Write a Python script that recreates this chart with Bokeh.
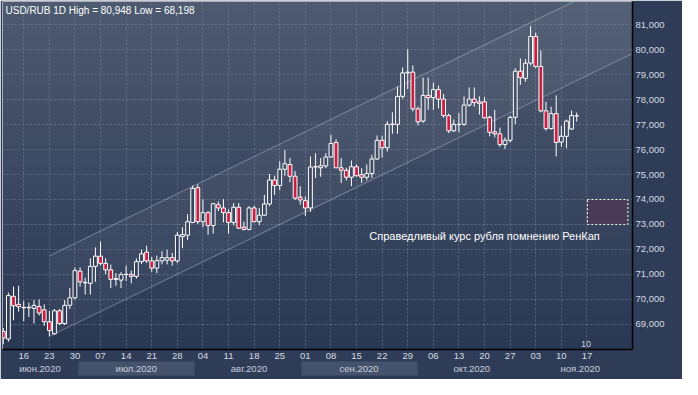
import numpy as np
import pandas as pd
from bokeh.plotting import figure
from bokeh.models import Range1d, LinearAxis, FixedTicker, Label, ColumnDataSource
from bokeh.embed import file_html
from bokeh.resources import INLINE

# ---------------- data (USD/RUB daily, 10 Jun 2020 - 13 Nov 2020) ----------------
opens = [68.71, 68.41, 70.12, 69.80, 69.68, 69.66, 69.64, 69.71, 69.58, 69.10,
         68.62, 69.54, 69.03, 69.76, 70.06, 71.13, 70.68, 70.64, 71.32, 71.73,
         71.44, 71.18, 70.83, 70.77, 70.99, 71.00, 70.92, 71.51, 71.89, 71.54,
         71.25, 71.54, 71.57, 71.67, 71.54, 72.51, 72.57, 73.08, 74.47, 73.11,
         73.47, 72.96, 73.79, 73.66, 73.47, 73.08, 73.69, 72.89, 72.80, 73.66,
         73.11, 73.37, 73.82, 74.78, 74.56, 75.21, 75.40, 74.93, 74.09, 73.95,
         73.66, 75.30, 75.27, 75.34, 75.70, 76.28, 75.27, 75.17, 74.89, 75.31,
         74.99, 74.89, 75.04, 75.62, 76.37, 76.07, 77.00, 77.01, 78.13, 79.07,
         79.10, 77.63, 77.14, 78.17, 78.08, 78.40, 78.02, 77.36, 76.75, 77.00,
         77.01, 77.78, 78.02, 77.91, 77.91, 77.29, 76.71, 76.63, 76.20, 76.37,
         77.29, 79.14, 78.85, 79.46, 80.53, 79.33, 77.55, 76.84, 77.44, 76.30,
         76.53, 76.82, 77.35]
highs = [68.85, 70.27, 70.51, 70.54, 69.93, 69.87, 69.97, 70.00, 69.80, 69.54,
         69.61, 69.61, 69.97, 70.45, 71.28, 71.28, 70.87, 71.64, 72.08, 72.31,
         71.64, 71.39, 71.05, 71.09, 71.35, 71.15, 71.64, 71.99, 72.15, 71.70,
         71.75, 71.93, 71.99, 71.86, 72.70, 72.89, 73.41, 74.56, 74.60, 74.00,
         73.54, 73.86, 73.92, 74.01, 73.60, 73.86, 73.86, 73.11, 73.73, 73.75,
         73.66, 74.18, 75.02, 74.95, 75.53, 75.98, 75.66, 75.14, 74.53, 74.12,
         75.72, 75.85, 75.66, 75.85, 76.59, 76.41, 75.66, 75.27, 75.56, 75.40,
         75.25, 75.40, 75.79, 76.56, 76.56, 77.14, 77.49, 78.52, 79.29, 80.01,
         79.37, 77.72, 78.88, 78.88, 78.68, 78.56, 78.23, 77.44, 77.20, 77.46,
         78.13, 78.49, 78.49, 78.13, 78.10, 77.36, 77.59, 76.88, 76.49, 77.36,
         79.26, 79.65, 79.62, 80.948, 80.68, 79.97, 77.91, 77.72, 78.17, 76.95,
         77.20, 77.56, 77.48]
lows = [68.198, 68.30, 69.16, 69.51, 69.12, 69.29, 69.03, 69.35, 68.94, 68.52,
        68.58, 68.97, 68.97, 69.61, 70.00, 70.51, 70.19, 70.19, 70.70, 71.35,
        71.00, 70.45, 70.54, 70.45, 70.74, 70.64, 70.83, 71.41, 71.46, 71.10,
        71.05, 71.40, 71.40, 71.35, 71.45, 72.05, 72.38, 73.05, 73.02, 72.89,
        72.59, 72.63, 73.54, 73.08, 72.63, 72.96, 72.83, 72.76, 72.76, 73.08,
        72.96, 73.34, 73.73, 74.18, 74.37, 74.95, 74.69, 73.98, 73.79, 73.34,
        73.50, 74.86, 74.91, 75.25, 75.66, 75.25, 74.66, 74.76, 74.53, 74.91,
        74.66, 74.76, 74.86, 75.59, 75.68, 75.92, 76.63, 76.63, 78.04, 78.42,
        77.53, 76.97, 77.07, 77.59, 77.59, 77.65, 77.27, 76.66, 76.71, 76.69,
        76.95, 77.72, 77.72, 77.40, 77.23, 76.53, 76.49, 76.11, 76.02, 76.28,
        77.01, 78.59, 78.72, 79.37, 79.26, 77.49, 76.75, 76.79, 75.72, 76.11,
        76.05, 76.79, 77.12]
closes = [68.45, 70.15, 69.74, 69.70, 69.66, 69.68, 69.76, 69.45, 69.10, 68.75,
          69.54, 69.03, 69.76, 70.06, 71.15, 70.70, 70.66, 71.32, 71.73, 71.44,
          71.18, 70.80, 70.80, 70.99, 71.00, 70.92, 71.51, 71.82, 71.54, 71.25,
          71.55, 71.67, 71.67, 71.54, 72.57, 72.59, 73.11, 74.44, 73.11, 73.47,
          72.96, 73.83, 73.66, 73.47, 73.08, 73.69, 72.85, 72.80, 73.66, 73.11,
          73.37, 73.82, 74.78, 74.56, 75.21, 75.43, 74.93, 74.05, 73.98, 73.66,
          75.30, 75.32, 75.35, 75.70, 76.24, 75.27, 75.17, 74.89, 75.31, 74.95,
          74.89, 75.04, 75.62, 76.37, 76.07, 77.01, 77.02, 78.13, 79.07, 79.10,
          77.63, 77.11, 78.17, 78.08, 78.40, 78.02, 77.36, 76.75, 77.01, 77.01,
          77.78, 78.02, 77.88, 77.85, 77.27, 76.69, 76.63, 76.20, 76.37, 77.29,
          79.14, 78.88, 79.46, 80.53, 79.33, 77.55, 76.84, 77.44, 76.28, 76.53,
          77.14, 77.36, 77.352]

first_day = "2020-06-10"
day_labels = ["16", "23", "30", "07", "14", "21", "28", "04", "11", "18", "25", "01",
              "08", "15", "22", "29", "06", "13", "20", "27", "03", "10", "17"]
month_labels = ["июн.2020", "июл.2020", "авг.2020", "сен.2020", "окт.2020", "ноя.2020"]
price_ticks = [69, 70, 71, 72, 73, 74, 75, 76, 77, 78, 79, 80, 81]
price_tick_labels = ["69,000", "70,000", "71,000", "72,000", "73,000", "74,000", "75,000",
                     "76,000", "77,000", "78,000", "79,000", "80,000", "81,000"]
channel_start_idx = 9          # anchored at low of 23 Jun
channel_low = [68.52, 79.847]  # lower channel line values (start, at right edge)
channel_width = 3.22
fair_low, fair_high = 73.0, 74.0
fair_text = "Справедливый курс рубля помнению РенКап"
title_text = "USD/RUB 1D High = 80,948 Low = 68,198"

# ---------------- derived ----------------
n = len(closes)
dates = pd.bdate_range(first_day, periods=n + 15)
idx = np.arange(n)
x0, x1 = -0.15, 122.9
y0, y1 = 67.99, 81.93

day_pos = [i for i, d in enumerate(dates) if d.weekday() == 1][:len(day_labels)]
months = [d.month for d in dates]
month_pos = []
band_pos = []
for k, m in enumerate([6, 7, 8, 9, 10, 11]):
    ids = [i for i, mm in enumerate(months) if mm == m]
    lo = max(ids[0] - 0.5, x0)
    hi = min(ids[-1] + 0.5, x1)
    month_pos.append((lo + hi) / 2)
    if m in (7, 9):
        band_pos.append((lo + hi) / 2)

top_c = np.array([78, 90, 112])
bot_c = np.array([42, 56, 84])


def grad_at(v):
    t = min(max((v - y0) / (y1 - y0), 0.0), 1.0)
    c = (bot_c + (top_c - bot_c) * t).astype(int)
    return "#%02x%02x%02x" % tuple(c)


up = [c >= o for o, c in zip(opens, closes)]
src = ColumnDataSource(dict(
    x=idx, o=opens, h=highs, l=lows, c=closes,
    top=[max(o, c) for o, c in zip(opens, closes)],
    bot=[min(o, c) for o, c in zip(opens, closes)],
    fill=[grad_at((o + c) / 2) if u else "#c81e41" for o, c, u in zip(opens, closes, up)],
))

FONT = "Liberation Sans"
p = figure(width=682, height=379, output_backend="svg", toolbar_location=None,
           x_range=Range1d(x0, x1), y_range=Range1d(y0, y1),
           y_axis_location="right",
           min_border_left=2, min_border_top=1, min_border_right=50, min_border_bottom=30,
           border_fill_color="#2f3c57", outline_line_color=None)

# background gradient
H = 96
img = np.empty((H, 1), dtype=np.uint32)
view = img.view(dtype=np.uint8).reshape((H, 1, 4))
for i in range(H):
    t = i / (H - 1)
    col = bot_c + (top_c - bot_c) * t
    view[i, 0, 0:3] = col.astype(np.uint8)
    view[i, 0, 3] = 255
p.image_rgba(image=[img], x=x0, y=y0, dw=x1 - x0, dh=y1 - y0, level="image")

# grids
p.xgrid.ticker = FixedTicker(ticks=day_pos)
p.ygrid.ticker = FixedTicker(ticks=price_ticks)
for g in (p.xgrid[0], p.ygrid[0]):
    g.grid_line_color = "#8a96ad"
    g.grid_line_alpha = 0.45
    g.grid_line_dash = "2 2"
    g.grid_line_width = 1

# channel
cx = [channel_start_idx, x1]
lo_line = channel_low
hi_line = [v + channel_width for v in channel_low]
p.patch(x=cx + cx[::-1], y=lo_line + hi_line[::-1], fill_color="white", fill_alpha=0.045,
        line_color=None)
p.line(cx, lo_line, line_color="#b8c0cf", line_alpha=0.4, line_width=1.2)
p.line(cx, hi_line, line_color="#b8c0cf", line_alpha=0.4, line_width=1.2)

# fair value box
p.quad(left=[114.1], right=[122.0], bottom=[fair_low], top=[fair_high],
       fill_color="#4c3a55", fill_alpha=0.9, line_color="white", line_dash="2 2", line_width=1)
p.add_layout(Label(x=116.5, y=(fair_low - 0.46), text=fair_text, text_align="right",
                   text_baseline="middle", text_color="white", text_font=FONT,
                   text_font_size="11px"))

# candles
p.segment(x0="x", y0="h", x1="x", y1="l", source=src, line_color="white", line_width=1)
p.vbar(x="x", width=0.74, top="top", bottom="bot", source=src, fill_color="fill",
       line_color="white", line_width=1)

# title
p.add_layout(Label(x=x0, y=y1, x_offset=3, y_offset=-3, text=title_text,
                   text_baseline="top", text_color="white", text_font=FONT,
                   text_font_size="10px"))
p.add_layout(Label(x=113.8, y=y0, y_offset=3, text="10", text_align="center",
                   text_baseline="bottom", text_color="#c9d0dc", text_font=FONT,
                   text_font_size="9px"))

# right axis
ya = p.yaxis[0]
ya.ticker = FixedTicker(ticks=price_ticks)
ya.major_label_overrides = {t: s for t, s in zip(price_ticks, price_tick_labels)}
ya.major_tick_out = 0
ya.major_tick_in = 0
ya.minor_tick_out = 0
ya.minor_tick_in = 0
ya.axis_line_color = "black"
ya.axis_line_width = 1.5
ya.major_label_standoff = 3
ya.major_label_text_color = "#d6dbe4"
ya.major_label_text_font = FONT
ya.major_label_text_font_size = "9.5px"

# day axis
xa = p.xaxis[0]
xa.ticker = FixedTicker(ticks=day_pos)
xa.major_label_overrides = {t: s for t, s in zip(day_pos, day_labels)}
xa.major_tick_out = 0
xa.major_tick_in = 0
xa.minor_tick_out = 0
xa.minor_tick_in = 0
xa.axis_line_color = "black"
xa.axis_line_width = 1.5
xa.major_label_standoff = 3
xa.major_label_text_color = "#d6dbe4"
xa.major_label_text_font = FONT
xa.major_label_text_font_size = "9.5px"

# month axis (minor ticks used as alternate month bands)
ma = LinearAxis(ticker=FixedTicker(ticks=month_pos, minor_ticks=band_pos),
                major_label_overrides={t: s for t, s in zip(month_pos, month_labels)})
ma.major_tick_out = 0
ma.major_tick_in = 0
ma.minor_tick_in = 0
ma.minor_tick_out = 14
ma.minor_tick_line_width = 116
ma.minor_tick_line_color = "#45526b"
ma.axis_line_color = None
ma.major_label_standoff = -13
ma.major_label_text_color = "#c8cfdb"
ma.major_label_text_font = FONT
ma.major_label_text_font_size = "9.5px"
p.add_layout(ma, "below")

# price tags on the right axis
p.add_layout(Label(x=x1, y=channel_low[-1], x_offset=3, text="79,847", text_baseline="middle",
                   text_color="black", text_font=FONT, text_font_size="9.5px",
                   background_fill_color="#e6e6cf", padding=2))
p.add_layout(Label(x=x1, y=closes[-1], x_offset=3, text="77,352", text_baseline="middle",
                   text_color="black", text_font=FONT, text_font_size="9.5px",
                   background_fill_color="#d4d8e0", padding=2))

# corner counters
p.add_layout(Label(x=x1, y=y0, x_offset=26, y_offset=-4, text="905", text_align="center",
                   text_baseline="top", text_color="#d6dbe4", text_font=FONT,
                   text_font_size="9.5px"))
p.add_layout(Label(x=x1, y=y0, x_offset=26, y_offset=-17, text=">123<", text_align="center",
                   text_baseline="top", text_color="#d6dbe4", text_font=FONT,
                   text_font_size="9.5px"))

open("out.html", "w").write(file_html(p, INLINE))
